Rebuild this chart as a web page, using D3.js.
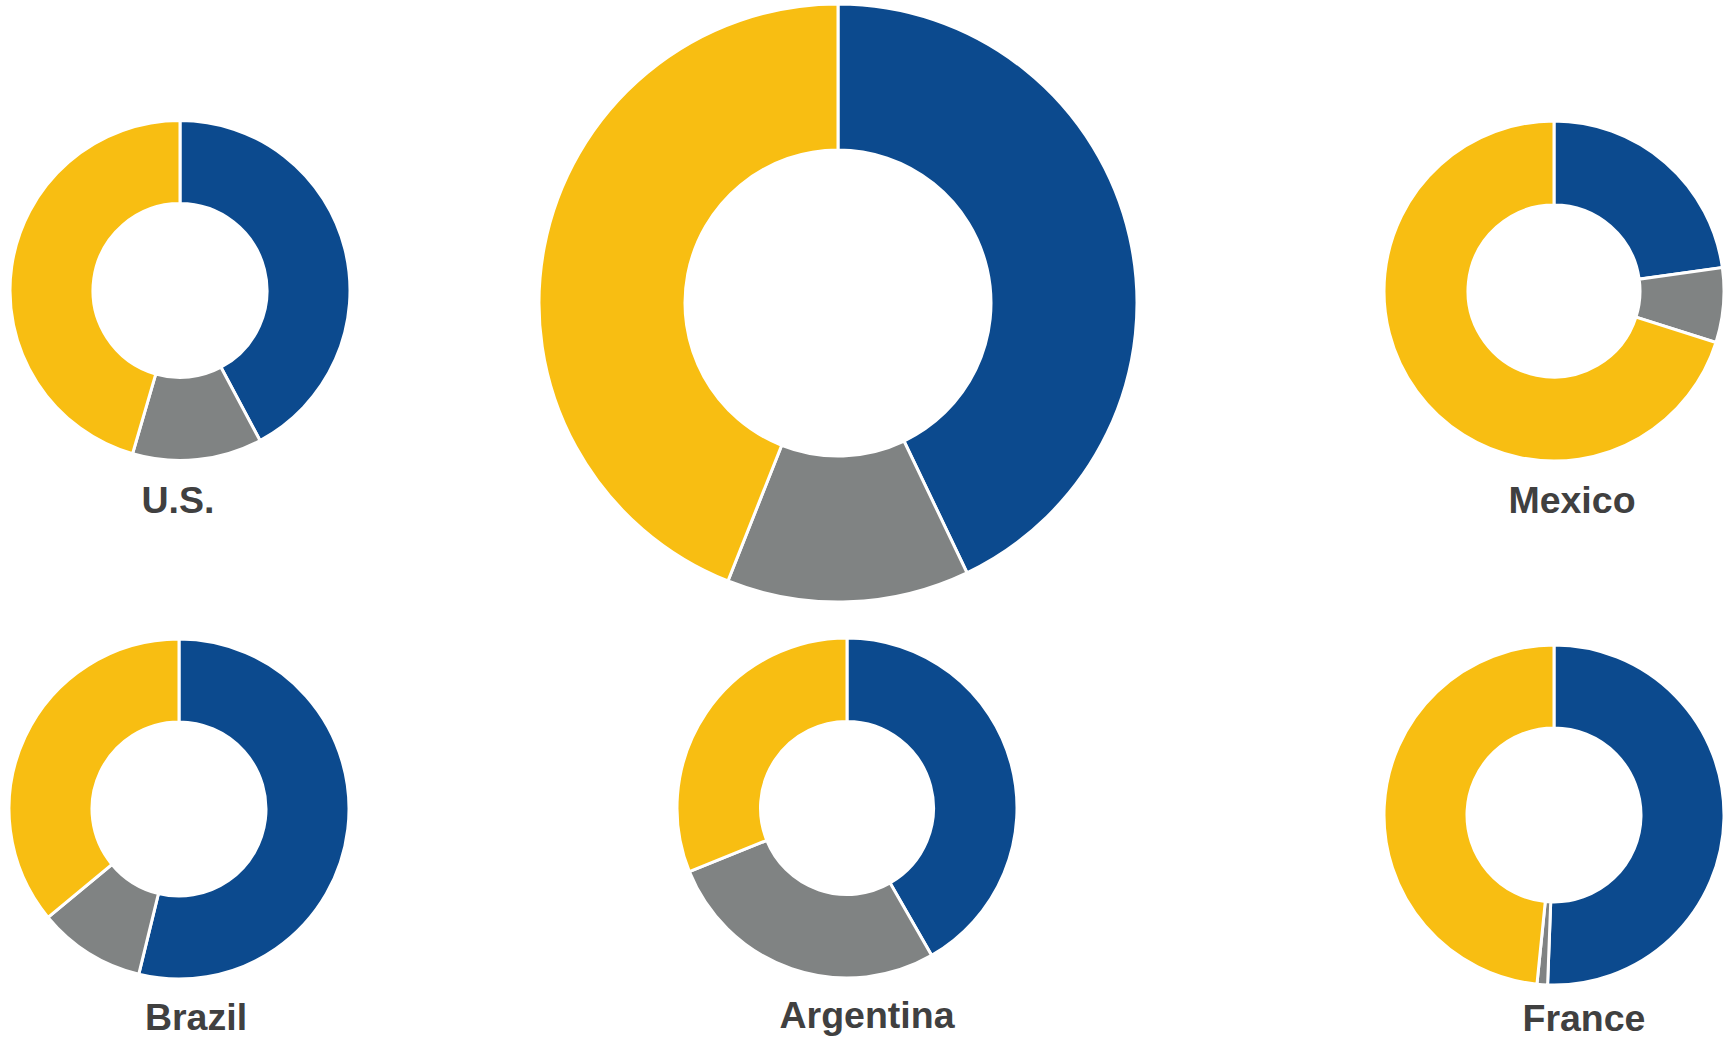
<!DOCTYPE html>
<html>
<head>
<meta charset="utf-8">
<script src="https://cdn.jsdelivr.net/npm/d3@7"></script>
<style>
  html, body { margin: 0; padding: 0; background: #ffffff; }
  svg { display: block; }
</style>
</head>
<body>
<svg id="chart" width="1729" height="1040"></svg>
<script>
// Share of each segment (percent), ordered clockwise from 12 o'clock
const segments = ["Blue", "Gray", "Yellow"];
const regions = ["Total", "U.S.", "Mexico", "Brazil", "Argentina", "France"];
const total     = [42.9, 13.1, 44.0];
const us        = [42.2, 12.3, 45.5];
const mexico    = [22.8, 7.1, 70.1];
const brazil    = [53.8, 10.2, 36.0];
const argentina = [41.7, 27.2, 31.1];
const france    = [50.6, 1.0, 48.4];
const seriesValues = [total, us, mexico, brazil, argentina, france];
const showLabel = [false, true, true, true, true, true];

// Layout of each ring on the page
const layout = [
  { cx: 838,  cy: 303,   outer: 299, inner: 153 },
  { cx: 180,  cy: 290.5, outer: 170, inner: 87,  lx: 178,  ly: 513 },
  { cx: 1554, cy: 291,   outer: 170, inner: 86,  lx: 1572, ly: 513 },
  { cx: 179,  cy: 809,   outer: 170, inner: 87,  lx: 196,  ly: 1030 },
  { cx: 847,  cy: 808,   outer: 170, inner: 86.5,lx: 867,  ly: 1028 },
  { cx: 1554, cy: 815,   outer: 170, inner: 87,  lx: 1584, ly: 1031 }
];

const color = d3.scaleOrdinal()
  .domain(segments)
  .range(["#0c4a8e", "#808383", "#f8be12"]);

const svg = d3.select("#chart");

const pie = d3.pie()
  .sort(null)
  .value(d => d.value)
  .startAngle(0)
  .endAngle(2 * Math.PI);

regions.forEach((name, i) => {
  const L = layout[i];
  const data = segments.map((s, j) => ({ segment: s, value: seriesValues[i][j] }));
  const arc = d3.arc().innerRadius(L.inner).outerRadius(L.outer);

  const g = svg.append("g")
    .attr("class", "donut")
    .attr("transform", `translate(${L.cx},${L.cy})`);

  g.selectAll("path")
    .data(pie(data))
    .join("path")
    .attr("d", arc)
    .attr("fill", d => color(d.data.segment))
    .attr("stroke", "#ffffff")
    .attr("stroke-width", 3)
    .attr("stroke-linejoin", "miter");

  if (showLabel[i]) {
    svg.append("text")
      .attr("x", L.lx)
      .attr("y", L.ly)
      .attr("text-anchor", "middle")
      .attr("font-family", "Arial, 'Liberation Sans', sans-serif")
      .attr("font-weight", "bold")
      .attr("font-size", 37.5)
      .attr("fill", "#404040")
      .text(name);
  }
});
</script>
</body>
</html>
